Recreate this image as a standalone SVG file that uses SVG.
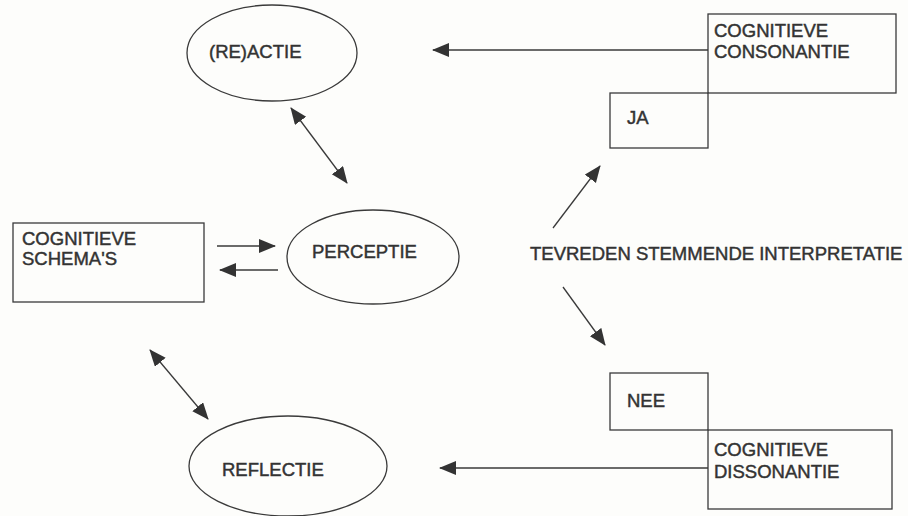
<svg xmlns="http://www.w3.org/2000/svg" width="908" height="516" viewBox="0 0 908 516">
<style>
.bg{fill:#fdfdfb}
.shape{fill:none;stroke:#3a3a3a;stroke-width:1.3}
.t{font-family:"Liberation Sans",Arial,sans-serif;font-size:18.5px;fill:#333;stroke:#333;stroke-width:0.45}
.c{stroke:#3a3a3a;stroke-width:1.3;fill:none}
</style>
<defs>
<marker id="ah" markerUnits="userSpaceOnUse" markerWidth="18" markerHeight="16" refX="16" refY="7" orient="auto-start-reverse">
<path d="M0,0 L17,7 L0,14 z" fill="#333"/>
</marker>
</defs>
<rect class="bg" x="0" y="0" width="908" height="516"/>
<g id="reactie">
<ellipse class="shape" cx="272" cy="53" rx="85" ry="48"/>
<text class="t" x="209" y="58">(RE)ACTIE</text>
</g>
<g id="consonantie">
<rect class="shape" x="708" y="14" width="188" height="79"/>
<text class="t" x="714" y="37">COGNITIEVE</text>
<text class="t" x="714" y="58">CONSONANTIE</text>
</g>
<g id="ja">
<rect class="shape" x="610" y="93" width="98" height="55"/>
<text class="t" x="627" y="124">JA</text>
</g>
<g id="schemas">
<rect class="shape" x="13" y="223" width="191" height="79"/>
<text class="t" x="22" y="245">COGNITIEVE</text>
<text class="t" x="22" y="265">SCHEMA'S</text>
</g>
<g id="perceptie">
<ellipse class="shape" cx="373" cy="257" rx="86" ry="47"/>
<text class="t" x="312" y="258">PERCEPTIE</text>
</g>
<g id="interpretatie">
<text class="t" x="530" y="260">TEVREDEN STEMMENDE INTERPRETATIE</text>
</g>
<g id="nee">
<rect class="shape" x="610" y="373" width="98" height="57"/>
<text class="t" x="627" y="407">NEE</text>
</g>
<g id="dissonantie">
<rect class="shape" x="708" y="430" width="184" height="79"/>
<text class="t" x="714" y="456">COGNITIEVE</text>
<text class="t" x="714" y="478">DISSONANTIE</text>
</g>
<g id="reflectie">
<ellipse class="shape" cx="288" cy="466" rx="99" ry="50"/>
<text class="t" x="222" y="476">REFLECTIE</text>
</g>
<g id="connectors">
<line class="c" x1="708" y1="50" x2="433" y2="50" marker-end="url(#ah)"/>
<line class="c" x1="291" y1="108" x2="347" y2="183" marker-start="url(#ah)" marker-end="url(#ah)"/>
<line class="c" x1="217" y1="246" x2="275" y2="246" marker-end="url(#ah)"/>
<line class="c" x1="278" y1="270" x2="220" y2="270" marker-end="url(#ah)"/>
<line class="c" x1="553" y1="228" x2="600" y2="166" marker-end="url(#ah)"/>
<line class="c" x1="563" y1="287" x2="605" y2="345" marker-end="url(#ah)"/>
<line class="c" x1="708" y1="468" x2="440" y2="468" marker-end="url(#ah)"/>
<line class="c" x1="150" y1="350" x2="208" y2="419" marker-start="url(#ah)" marker-end="url(#ah)"/>
</g>
</svg>
